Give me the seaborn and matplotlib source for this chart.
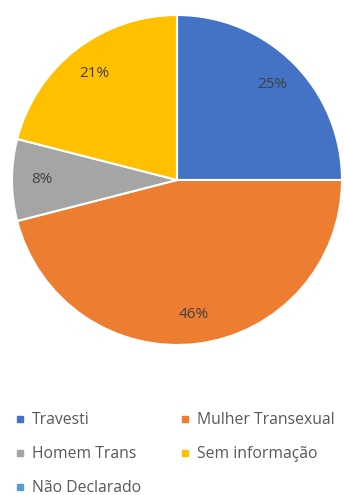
import matplotlib
matplotlib.use("Agg")
import matplotlib.pyplot as plt
from matplotlib.lines import Line2D
import seaborn as sns

categories = ["Travesti", "Mulher Transexual", "Homem Trans", "Sem informação", "Não Declarado"]
values = [25, 46, 8, 21, 0]
colors = ["#4472C4", "#ED7D31", "#A5A5A5", "#FFC000", "#5B9BD5"]

sns.set_theme(style="white")
plt.rcParams['font.family'] = ['Open Sans', 'DejaVu Sans']

fig = plt.figure(figsize=(3.44, 4.95), dpi=100)
ax = fig.add_axes([12/344, 1-345/495, 330/344, 330/495])

def fmt(p):
    return f"{p:.0f}%" if p > 0.5 else ""

wedges, texts, autotexts = ax.pie(values, colors=colors, startangle=90, counterclock=False,
                                  autopct=fmt, pctdistance=0.82, radius=1,
                                  wedgeprops=dict(edgecolor="white", linewidth=1.5),
                                  textprops=dict(color="#404040", fontsize=11))
ax.set_xlim(-1, 1)
ax.set_ylim(-1, 1)
ax.set_aspect("equal")
ax.axis("off")

order = [0, 2, 4, 1, 3]
handles = [Line2D([0], [0], marker='s', linestyle='none', markersize=5,
                  markerfacecolor=colors[i], markeredgecolor=colors[i]) for i in order]
labels = [categories[i] for i in order]
fig.legend(handles, labels, ncol=2, loc='upper left', bbox_to_anchor=(9/344, 1-406/495),
           frameon=False, fontsize=11.3, labelcolor="#595959", handlelength=0.6,
           handletextpad=0.45, labelspacing=1.15, columnspacing=2.5, borderaxespad=0)

fig.savefig("out.png", dpi=100)
